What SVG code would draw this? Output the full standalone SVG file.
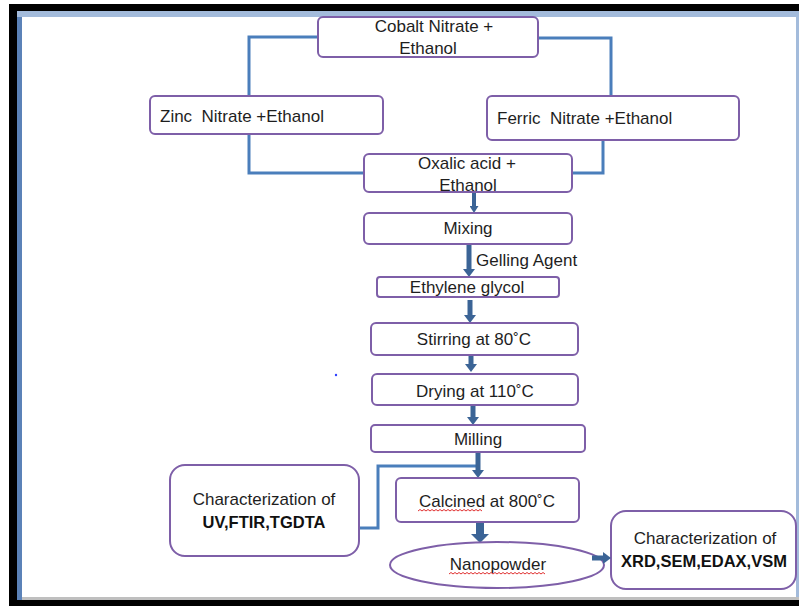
<svg xmlns="http://www.w3.org/2000/svg" width="799" height="606" viewBox="0 0 799 606">
<style>
.box{fill:#fff;stroke:#7e5fa8;stroke-width:2}
.t{font-family:"Liberation Sans",Arial,sans-serif;font-size:17px;fill:#1e1e1e;text-anchor:middle;white-space:pre}
.b{font-weight:bold;fill:#111;font-size:16.5px}
.thin{fill:none;stroke:#4a7ebb;stroke-width:3}
.arr{fill:none;stroke:#3b6496;stroke-width:5}
.wavy{fill:none;stroke:#e03030;stroke-width:1}
</style>
<defs>
<marker id="ah" viewBox="0 0 8 12" refX="0" refY="6" markerWidth="8" markerHeight="12" markerUnits="userSpaceOnUse" orient="auto"><path d="M0,0 L8,6 L0,12 z" fill="#3b6496"/></marker>
<marker id="ahs" viewBox="0 0 7 9" refX="0" refY="4.5" markerWidth="7" markerHeight="9" markerUnits="userSpaceOnUse" orient="auto"><path d="M0,0 L7,4.5 L0,9 z" fill="#3b6496"/></marker>
<marker id="ahb" viewBox="0 0 9 18" refX="0" refY="9" markerWidth="9" markerHeight="18" markerUnits="userSpaceOnUse" orient="auto"><path d="M0,0 L9,9 L0,18 z" fill="#3b6496"/></marker>
</defs>
<rect x="0" y="0" width="799" height="606" fill="#fff"/>
<rect x="9" y="4" width="790" height="602" fill="#000"/>
<rect x="17" y="11" width="782" height="589" fill="#a3bbdb"/>
<rect x="17" y="17" width="5" height="583" fill="#5b82b8"/>
<rect x="22" y="17" width="774" height="581" fill="#fff"/>
<rect x="22" y="597" width="777" height="3" fill="#bfbfbf"/>
<circle cx="336" cy="375" r="1.2" fill="#3040ff"/>
<g id="connectors">
<path class="thin" d="M318,37 H249 V96"/>
<path class="thin" d="M249,134 V173 H364"/>
<path class="thin" d="M538,38 H611 V96"/>
<path class="thin" d="M603,140 V173 H572"/>
<path class="thin" d="M359,528 H378 V466 H478"/>
<path class="arr" style="stroke-width:4" d="M474,192 V206" marker-end="url(#ahs)"/>
<path class="arr" d="M469,238 V269" marker-end="url(#ah)"/>
<path class="arr" d="M470,300 V315" marker-end="url(#ah)"/>
<path class="arr" d="M471,355 V364" marker-end="url(#ah)"/>
<path class="arr" d="M473,405 V417" marker-end="url(#ah)"/>
<path class="arr" d="M478,452 V470" marker-end="url(#ah)"/>
<path class="arr" style="stroke-width:8" d="M480,522 V534" marker-end="url(#ahb)"/>
</g>
<g id="cobalt"><rect class="box" x="318" y="17" width="220" height="40" rx="5"/><text class="t" x="434" y="32">Cobalt Nitrate +</text><text class="t" x="428" y="54">Ethanol</text></g>
<g id="zinc"><rect class="box" x="150" y="96" width="233" height="38" rx="5"/><text class="t" x="160" y="122" style="text-anchor:start" xml:space="preserve">Zinc  Nitrate +Ethanol</text></g>
<g id="ferric"><rect class="box" x="487" y="96" width="252" height="44" rx="5"/><text class="t" x="497" y="124" style="text-anchor:start" xml:space="preserve">Ferric  Nitrate +Ethanol</text></g>
<g id="oxalic"><rect class="box" x="364" y="154" width="208" height="38" rx="5"/><text class="t" x="467" y="169">Oxalic acid +</text><text class="t" x="468" y="191">Ethanol</text></g>
<g id="mixing"><rect class="box" x="364" y="213" width="208" height="31" rx="5"/><text class="t" x="468" y="234">Mixing</text></g>
<g id="gelling"><text class="t" x="476" y="266" style="text-anchor:start">Gelling Agent</text></g>
<g id="ethylene"><rect class="box" x="377" y="277" width="182" height="20" rx="3"/><text class="t" x="467" y="293">Ethylene glycol</text></g>
<g id="stirring"><rect class="box" x="371" y="323" width="207" height="32" rx="5"/><text class="t" x="474" y="345">Stirring at 80˚C</text></g>
<g id="drying"><rect class="box" x="372" y="374" width="206" height="31" rx="5"/><text class="t" x="475" y="397">Drying at 110˚C</text></g>
<g id="milling"><rect class="box" x="371" y="425" width="214" height="27" rx="4"/><text class="t" x="478" y="445">Milling</text></g>
<g id="calcined"><rect class="box" x="396" y="478" width="183" height="44" rx="5"/><text class="t" x="487" y="507">Calcined at 800˚C</text><path class="wavy" d="M418,511 l2,-1.5 l2,1.5 l2,-1.5 l2,1.5 l2,-1.5 l2,1.5 l2,-1.5 l2,1.5 l2,-1.5 l2,1.5 l2,-1.5 l2,1.5 l2,-1.5 l2,1.5 l2,-1.5 l2,1.5 l2,-1.5 l2,1.5 l2,-1.5 l2,1.5 l2,-1.5 l2,1.5 l2,-1.5 l2,1.5 l2,-1.5 l2,1.5 l2,-1.5 l2,1.5 l2,-1.5 l2,1.5 l2,-1.5 l2,1.5"/></g>
<g id="charleft"><rect class="box" x="170" y="465" width="189" height="91" rx="15"/><text class="t" x="264" y="505">Characterization of</text><text class="t b" x="264" y="528">UV,FTIR,TGDTA</text></g>
<g id="nanopowder"><ellipse class="box" cx="497" cy="565" rx="107" ry="23"/><text class="t" x="498" y="570">Nanopowder</text><path class="wavy" d="M449,574 l2,-1.5 l2,1.5 l2,-1.5 l2,1.5 l2,-1.5 l2,1.5 l2,-1.5 l2,1.5 l2,-1.5 l2,1.5 l2,-1.5 l2,1.5 l2,-1.5 l2,1.5 l2,-1.5 l2,1.5 l2,-1.5 l2,1.5 l2,-1.5 l2,1.5 l2,-1.5 l2,1.5 l2,-1.5 l2,1.5 l2,-1.5 l2,1.5 l2,-1.5 l2,1.5 l2,-1.5 l2,1.5 l2,-1.5 l2,1.5 l2,-1.5 l2,1.5 l2,-1.5 l2,1.5 l2,-1.5 l2,1.5 l2,-1.5 l2,1.5 l2,-1.5 l2,1.5 l2,-1.5 l2,1.5 l2,-1.5 l2,1.5 l2,-1.5 l2,1.5"/></g>
<g id="charright"><rect class="box" x="611" y="511" width="185" height="78" rx="15"/><text class="t" x="705" y="544">Characterization of</text><text class="t b" x="704" y="567">XRD,SEM,EDAX,VSM</text></g>
<g id="connectors-top"><path class="arr" d="M592,558 H603" marker-end="url(#ah)"/></g>
</svg>
